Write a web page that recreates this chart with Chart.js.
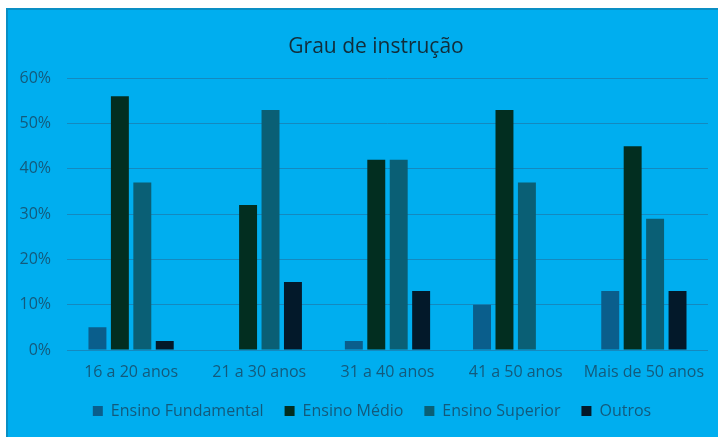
<!DOCTYPE html>
<html>
<head>
<meta charset="utf-8">
<script src="https://cdn.jsdelivr.net/npm/chart.js@4/dist/chart.umd.min.js"></script>
<style>
  html, body { margin: 0; padding: 0; background: #fff; }
  #box {
    position: absolute; left: 6px; top: 8px; width: 712px; height: 429px;
    background: #00aeef; box-sizing: border-box;
    border-left: 2px solid #0a8fc4; border-top: 2px solid #0a8fc4;
  }
  canvas { display: block; }
</style>
</head>
<body>
<div id="box"><canvas id="grau" width="710" height="427"></canvas></div>
<script>
// faixas etarias no eixo x
var faixas = ["16 a 20 anos", "21 a 30 anos", "31 a 40 anos", "41 a 50 anos", "Mais de 50 anos"];

// percentuais
var fundamental = [5, 0, 2, 10, 13];
var medio = [56, 32, 42, 53, 45];
var superior = [37, 53, 42, 37, 29];
var outros = [2, 15, 13, 0, 13];

var yTicks = [0, 10, 20, 30, 40, 50, 60];

var txt = "#135a7c";
var grid = "#1489bf";

// titulo e legenda ficam um pouco a direita do centro, como no Excel
var nudge = {
  id: "nudge",
  afterLayout: function (chart) {
    chart.titleBlock.left += 13;
    chart.titleBlock.right += 13;
    chart.legend.left += 9;
    chart.legend.right += 9;
  }
};

var ctx = document.getElementById("grau");
var myChart = new Chart(ctx, {
  type: "bar",
  data: {
    labels: faixas,
    datasets: [
      { label: "Ensino Fundamental", data: fundamental, backgroundColor: "#0a5e8c" },
      { label: "Ensino Médio", data: medio, backgroundColor: "#022e20" },
      { label: "Ensino Superior", data: superior, backgroundColor: "#0a5f75" },
      { label: "Outros", data: outros, backgroundColor: "#03192a" }
    ]
  },
  plugins: [nudge],
  options: {
    responsive: false,
    animation: false,
    categoryPercentage: 0.7,
    barPercentage: 0.8,
    layout: { padding: { left: 9, right: 9, top: 24, bottom: 8 } },
    plugins: {
      title: {
        display: true,
        text: "Grau de instrução",
        color: "#122d3a",
        font: { family: "Open Sans", size: 21, weight: "normal" },
        padding: { top: 0, bottom: 19 }
      },
      legend: {
        position: "bottom",
        labels: {
          color: txt,
          font: { family: "Open Sans", size: 16 },
          boxWidth: 10,
          boxHeight: 10,
          padding: 21
        }
      },
      tooltip: { enabled: false }
    },
    scales: {
      x: {
        afterFit: function (axis) { axis.height = 32; },
        grid: { display: false, drawTicks: false },
        border: { color: grid, width: 1 },
        ticks: { color: txt, font: { family: "Open Sans", size: 16 }, padding: 13 }
      },
      y: {
        min: 0,
        max: 60,
        afterBuildTicks: function (axis) {
          axis.ticks = yTicks.map(function (v) { return { value: v }; });
        },
        afterFit: function (axis) { axis.width = 50; },
        grid: { color: grid, drawTicks: false },
        border: { display: false },
        ticks: {
          color: txt,
          font: { family: "Open Sans", size: 16 },
          padding: 16,
          callback: function (v) { return v + "%"; }
        }
      }
    }
  }
});
</script>
</body>
</html>
